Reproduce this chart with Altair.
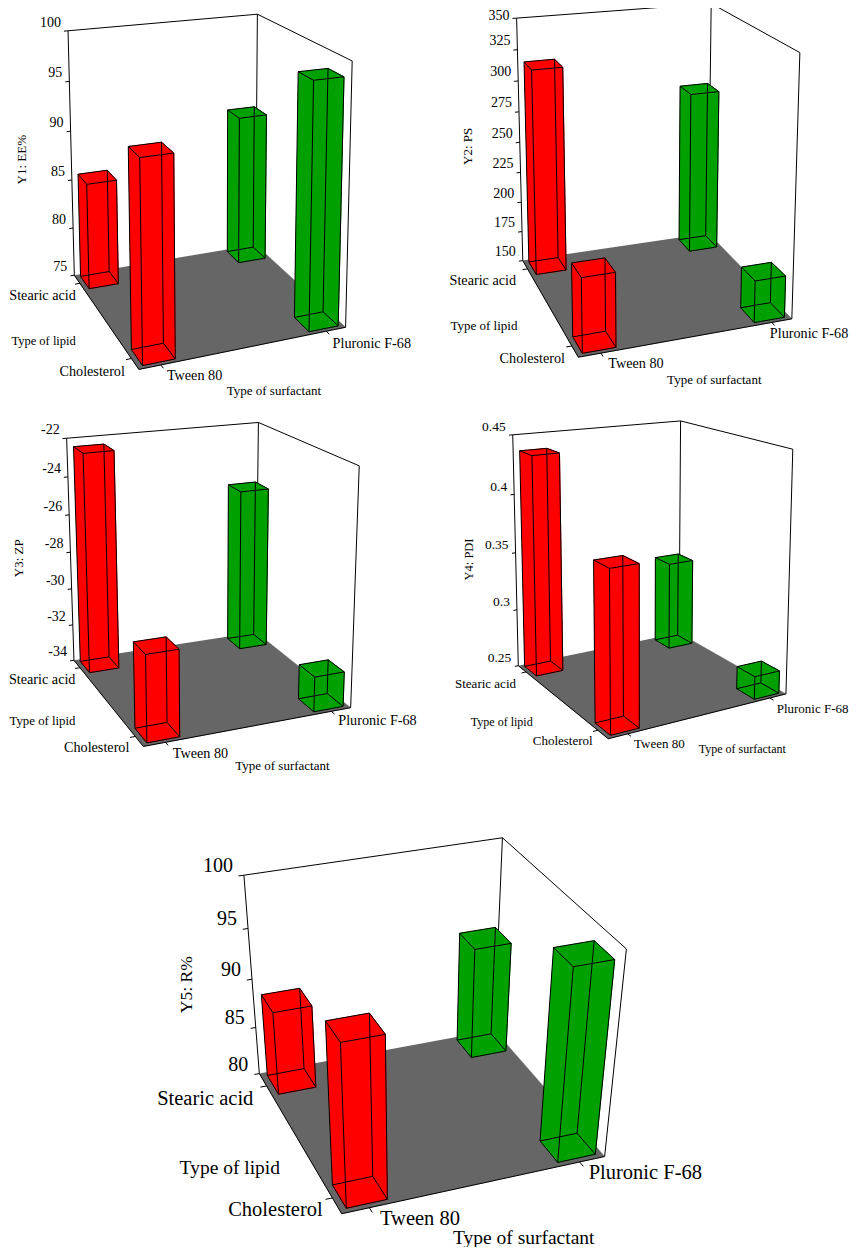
import numpy as np
import pandas as pd
import altair as alt

# ---------------------------------------------------------------- data
lipids = ["Stearic acid", "Cholesterol"]
surfactants = ["Tween 80", "Pluronic F-68"]
responses = ["Y1: EE%", "Y2: PS", "Y3: ZP", "Y4: PDI", "Y5: R%"]
lipid_title = "Type of lipid"
surfactant_title = "Type of surfactant"

# bar order: (Stearic acid, Tween 80), (Cholesterol, Tween 80),
#            (Stearic acid, Pluronic F-68), (Cholesterol, Pluronic F-68)
bar_lipid = ["Stearic acid", "Cholesterol", "Stearic acid", "Cholesterol"]
bar_surfactant = ["Tween 80", "Tween 80", "Pluronic F-68", "Pluronic F-68"]

y1_ee = [85.7, 93.6, 90.4, 98.5]
y2_ps = [316.0, 206.0, 284.0, 182.5]
y3_zp = [-22.4, -29.7, -25.2, -32.2]
y4_pdi = [0.437, 0.377, 0.328, 0.269]
y5_r = [88.6, 95.9, 91.5, 98.9]
response_values = [y1_ee, y2_ps, y3_zp, y4_pdi, y5_r]

y1_ticks = [75, 80, 85, 90, 95, 100]
y2_ticks = [150, 175, 200, 225, 250, 275, 300, 325, 350]
y3_ticks = [-34, -32, -30, -28, -26, -24, -22]
y4_ticks = [0.25, 0.3, 0.35, 0.4, 0.45]
y5_ticks = [80, 85, 90, 95, 100]
response_ticks = [y1_ticks, y2_ticks, y3_ticks, y4_ticks, y5_ticks]

# ---------------------------------------------------------------- layout / style
FONT = "Liberation Serif, Times New Roman, Times, serif"
RED = "#ff0000"
GREEN = "#00a000"
FLOOR = "#666666"
MARGIN = 8
CHART_W, CHART_H = 842, 1239

# screen position (page px) of the box corners of each panel:
# L, F, R, Bk (floor) and TL, TBk, TR (top)
BOX_CORNERS = {
    1: [(74.0, 274.5), (139.0, 370.0), (345.0, 326.7), (256.3, 245.3),
        (68.3, 31.0), (256.7, 14.0), (352.7, 61.0)],
    2: [(522.7, 260.0), (578.3, 357.7), (791.7, 318.3), (708.5, 233.8),
        (516.7, 18.3), (711.0, 3.3), (800.0, 52.7)],
    3: [(74.0, 660.0), (143.3, 746.7), (350.7, 707.3), (256.0, 632.5),
        (66.7, 438.3), (258.3, 422.3), (359.3, 466.0)],
    4: [(518.3, 665.0), (608.3, 739.3), (786.0, 693.3), (679.0, 633.8),
        (512.7, 435.0), (680.7, 420.7), (792.7, 449.3)],
    5: [(259.3, 1071.7), (341.7, 1215.0), (605.0, 1155.0), (494.0, 1032.0),
        (244.0, 876.0), (502.7, 836.7), (626.0, 949.3)],
}
BOX_WORLD = [(0, 0, 0), (1, 0, 0), (1, 1, 0), (0, 1, 0), (0, 0, 1), (0, 1, 1), (1, 1, 1)]
CAT0, CAT1 = 0.1, 0.9
HALF = 0.075

TEXT_LAYOUT = {
    1: dict(tick=(-7, -8), stearic=(1.5, 20.7), chol=(-14, 2.7), tween=(28, 6.7),
            plur=(-13, 16.3), lipid=(1.5, 65.7), surf=(135, 22), ytitle=(-49, 4),
            fs_tick=14, fs_cat=14.2, fs_stearic=14.2, fs_title=12.5, fs_surf=13, fs_y=13),
    2: dict(tick=(-7, -8.5), stearic=(-6.7, 20), chol=(-13.3, 1.6), tween=(30, 6.6),
            plur=(-22, 15), lipid=(-5.4, 65), surf=(136, 23), ytitle=(-51.5, 4),
            fs_tick=14, fs_cat=14.2, fs_stearic=14.2, fs_title=13, fs_surf=13, fs_y=13),
    3: dict(tick=(-7, -8), stearic=(1.5, 20), chol=(-14, 1.6), tween=(29.4, 7.3),
            plur=(-12.4, 13.4), lipid=(1.5, 60.7), surf=(139, 19.3), ytitle=(-51, 6),
            fs_tick=14, fs_cat=14.2, fs_stearic=14.2, fs_title=12.8, fs_surf=13, fs_y=13),
    4: dict(tick=(-7, -7.5), stearic=(-2.3, 18.3), chol=(-15.6, 2.4), tween=(25.7, 5.7),
            plur=(-9.3, 15), lipid=(14.4, 56.7), surf=(134, 10), ytitle=(-47, 6.7),
            fs_tick=13.5, fs_cat=13, fs_stearic=13, fs_title=12, fs_surf=12, fs_y=12.5),
    5: dict(tick=(-11, -9), stearic=(-6, 25.6), chol=(-19, -3.3), tween=(38.3, 5),
            plur=(-16, 16.7), lipid=(20.7, 94.3), surf=(182, 29), ytitle=(-65, 5.5),
            fs_tick=20, fs_cat=20.5, fs_stearic=20.5, fs_title=19.5, fs_surf=19.5, fs_y=17.5),
}


def camera(img_pts):
    """Perspective camera (3x4) fitted to the box corners (DLT)."""
    W = np.array(BOX_WORLD, dtype=float)
    I = np.array(img_pts, dtype=float)
    c = I.mean(axis=0)
    s = float(np.sqrt(((I - c) ** 2).sum(axis=1).mean()))
    n = (I - c) / s
    A = []
    for (X, Y, Z), (x, y) in zip(W, n):
        A.append([X, Y, Z, 1, 0, 0, 0, 0, -x * X, -x * Y, -x * Z, -x])
        A.append([0, 0, 0, 0, X, Y, Z, 1, -y * X, -y * Y, -y * Z, -y])
    _, _, vt = np.linalg.svd(np.array(A))
    Pn = vt[-1].reshape(3, 4)
    Tinv = np.array([[s, 0, c[0]], [0, s, c[1]], [0, 0, 1]])
    P = Tinv @ Pn
    P = P / P[2, 3]
    return [float(v) for v in P.flatten()]


PFIELDS = [f"p{i}" for i in range(12)] + ["vmin", "vmax"]
param_records = []
for k in range(5):
    panel = k + 1
    rec = {"panel": panel}
    for i, v in enumerate(camera(BOX_CORNERS[panel])):
        rec[f"p{i}"] = v
    rec["vmin"] = float(response_ticks[k][0])
    rec["vmax"] = float(response_ticks[k][-1])
    param_records.append(rec)

# ---------------------------------------------------------------- tables
bar_rows = []
for k in range(5):
    for b in range(4):
        bar_rows.append(dict(panel=k + 1, bar=b, lipid=bar_lipid[b], surfactant=bar_surfactant[b],
                             li=lipids.index(bar_lipid[b]), si=surfactants.index(bar_surfactant[b]),
                             value=float(response_values[k][b])))
bars = pd.DataFrame(bar_rows)

sq = [(-1, -1), (1, -1), (1, 1), (-1, 1)]
sq2 = [(-1, 0), (1, 0), (1, 1), (-1, 1)]
face_tpl = []
for o, (a, b) in enumerate(sq):
    face_tpl.append(dict(face=0, ord=o, a=a, b=b, c=0))
    face_tpl.append(dict(face=1, ord=o, a=a, b=b, c=1))
for o, (b, c) in enumerate(sq2):
    face_tpl.append(dict(face=2, ord=o, a=-1, b=b, c=c))
    face_tpl.append(dict(face=3, ord=o, a=1, b=b, c=c))
for o, (a, c) in enumerate(sq2):
    face_tpl.append(dict(face=4, ord=o, a=a, b=-1, c=c))
    face_tpl.append(dict(face=5, ord=o, a=a, b=1, c=c))
faces = bars.merge(pd.DataFrame(face_tpl), how="cross")
faces["fid"] = faces["panel"].astype(str) + "-" + faces["bar"].astype(str) + "-" + faces["face"].astype(str)

edge_tpl = []
for c in (0, 1):
    for i in range(4):
        (a1, b1), (a2, b2) = sq[i], sq[(i + 1) % 4]
        edge_tpl.append(dict(a1=a1, b1=b1, c1=c, a2=a2, b2=b2, c2=c))
for (a, b) in sq:
    edge_tpl.append(dict(a1=a, b1=b, c1=0, a2=a, b2=b, c2=1))
edges = bars.merge(pd.DataFrame(edge_tpl), how="cross")

floor = pd.DataFrame([dict(panel=k + 1, ord=o, u=float(u), v=float(v))
                      for k in range(5) for o, (u, v) in enumerate([(0, 0), (1, 0), (1, 1), (0, 1)])])

seg_rows = []
for k in range(5):
    p = k + 1
    lo, hi = float(response_ticks[k][0]), float(response_ticks[k][-1])
    for s in [((0, 0, lo), (0, 0, hi)), ((0, 0, hi), (0, 1, hi)), ((0, 1, hi), (1, 1, hi)),
              ((0, 1, lo), (0, 1, hi)), ((1, 1, lo), (1, 1, hi)),
              ((0, 0, lo), (1, 0, lo)), ((1, 0, lo), (1, 1, lo))]:
        seg_rows.append(dict(panel=p, u1=s[0][0], v1=s[0][1], w1=s[0][2], u2=s[1][0], v2=s[1][1], w2=s[1][2]))
    for tv in response_ticks[k]:
        seg_rows.append(dict(panel=p, u1=0, v1=0, w1=float(tv), u2=0, v2=-0.02, w2=float(tv)))
    for cp in (CAT0, CAT1):
        seg_rows.append(dict(panel=p, u1=cp, v1=0, w1=lo, u2=cp, v2=-0.025, w2=lo))
        seg_rows.append(dict(panel=p, u1=1, v1=cp, w1=lo, u2=1.03, v2=cp, w2=lo))
segs = pd.DataFrame(seg_rows)

text_rows = []
for k in range(5):
    p = k + 1
    L = TEXT_LAYOUT[p]
    lo, hi = float(response_ticks[k][0]), float(response_ticks[k][-1])
    for tv in response_ticks[k]:
        text_rows.append(dict(panel=p, kind="right", text=f"{tv:g}", u=0, v=0, w=float(tv),
                              dx=L["tick"][0], dy=L["tick"][1], fs=L["fs_tick"]))
    text_rows.append(dict(panel=p, kind="right", text=lipids[0], u=0, v=0, w=lo,
                          dx=L["stearic"][0], dy=L["stearic"][1], fs=L["fs_stearic"]))
    text_rows.append(dict(panel=p, kind="right", text=lipids[1], u=1, v=0, w=lo,
                          dx=L["chol"][0], dy=L["chol"][1], fs=L["fs_cat"]))
    text_rows.append(dict(panel=p, kind="left", text=surfactants[0], u=1, v=0, w=lo,
                          dx=L["tween"][0], dy=L["tween"][1], fs=L["fs_cat"]))
    text_rows.append(dict(panel=p, kind="left", text=surfactants[1], u=1, v=1, w=lo,
                          dx=L["plur"][0], dy=L["plur"][1], fs=L["fs_cat"]))
    text_rows.append(dict(panel=p, kind="right", text=lipid_title, u=0, v=0, w=lo,
                          dx=L["lipid"][0], dy=L["lipid"][1], fs=L["fs_title"]))
    text_rows.append(dict(panel=p, kind="center", text=surfactant_title, u=1, v=0, w=lo,
                          dx=L["surf"][0], dy=L["surf"][1], fs=L["fs_surf"]))
    text_rows.append(dict(panel=p, kind="ytitle", text=responses[k], u=0, v=0, w=(lo + hi) / 2,
                          dx=L["ytitle"][0], dy=L["ytitle"][1], fs=L["fs_y"]))
texts = pd.DataFrame(text_rows)

# ---------------------------------------------------------------- chart helpers
# page pixels -> plot pixels (1:1, the page has an 8px margin)
XS = alt.Scale(domain=[MARGIN, MARGIN + CHART_W], nice=False, zero=False)
YS = alt.Scale(domain=[MARGIN, MARGIN + CHART_H], nice=False, zero=False, reverse=True)


def geo(df):
    return alt.Chart(df).transform_lookup(
        lookup="panel",
        from_=alt.LookupData(data=alt.InlineData(values=param_records), key="panel", fields=PFIELDS),
    )


def norm(w):
    return f"(({w}) - datum.vmin) / (datum.vmax - datum.vmin)"


def project(ch, u, v, t, xo, yo):
    den = f"(datum.p8*({u}) + datum.p9*({v}) + datum.p10*({t}) + datum.p11)"
    return ch.transform_calculate(**{
        xo: f"(datum.p0*({u}) + datum.p1*({v}) + datum.p2*({t}) + datum.p3) / {den}",
        yo: f"(datum.p4*({u}) + datum.p5*({v}) + datum.p6*({t}) + datum.p7) / {den}",
    })


def X(f):
    return alt.X(f"{f}:Q", scale=XS, axis=None)


def Y(f):
    return alt.Y(f"{f}:Q", scale=YS, axis=None)


color_scale = alt.Scale(domain=surfactants, range=[RED, GREEN])

# floor
floor_layer = project(geo(floor).transform_calculate(t="0"), "datum.u", "datum.v", "datum.t", "px", "py") \
    .mark_line(fill=FLOOR, stroke=FLOOR, strokeWidth=0.5) \
    .encode(x=X("px"), y=Y("py"), order=alt.Order("ord:Q"), detail="panel:N")

# frame, floor edges and ticks
seg_base = geo(segs).transform_calculate(t1=norm("datum.w1"), t2=norm("datum.w2"))
seg_base = project(seg_base, "datum.u1", "datum.v1", "datum.t1", "x1", "y1")
seg_base = project(seg_base, "datum.u2", "datum.v2", "datum.t2", "x2", "y2")
frame_layer = seg_base.mark_rule(color="black", strokeWidth=1).encode(
    x=X("x1"), y=Y("y1"), x2="x2:Q", y2="y2:Q")

# bar faces
ucalc = f"{CAT0} + {CAT1 - CAT0}*datum.li + {HALF}*datum.a"
vcalc = f"{CAT0} + {CAT1 - CAT0}*datum.si + {HALF}*datum.b"
face_base = geo(faces).transform_calculate(
    u=ucalc, v=vcalc, t="datum.c == 1 ? " + norm("datum.value") + " : 0")
face_base = project(face_base, "datum.u", "datum.v", "datum.t", "px", "py")
face_layer = face_base.mark_line(strokeWidth=0.6).encode(
    x=X("px"), y=Y("py"), order=alt.Order("ord:Q"), detail="fid:N",
    fill=alt.Fill("surfactant:N", scale=color_scale, legend=None),
    color=alt.Color("surfactant:N", scale=color_scale, legend=None))

# bar edges
edge_base = geo(edges).transform_calculate(
    eu1=f"{CAT0} + {CAT1 - CAT0}*datum.li + {HALF}*datum.a1",
    ev1=f"{CAT0} + {CAT1 - CAT0}*datum.si + {HALF}*datum.b1",
    et1="datum.c1 == 1 ? " + norm("datum.value") + " : 0",
    eu2=f"{CAT0} + {CAT1 - CAT0}*datum.li + {HALF}*datum.a2",
    ev2=f"{CAT0} + {CAT1 - CAT0}*datum.si + {HALF}*datum.b2",
    et2="datum.c2 == 1 ? " + norm("datum.value") + " : 0",
)
edge_base = project(edge_base, "datum.eu1", "datum.ev1", "datum.et1", "x1", "y1")
edge_base = project(edge_base, "datum.eu2", "datum.ev2", "datum.et2", "x2", "y2")
edge_layer = edge_base.mark_rule(color="black", strokeWidth=1).encode(
    x=X("x1"), y=Y("y1"), x2="x2:Q", y2="y2:Q")

# texts (kept inside the drawable area)
text_base = geo(texts).transform_calculate(t=norm("datum.w"))
text_base = project(text_base, "datum.u", "datum.v", "datum.t", "ax", "ay") \
    .transform_calculate(
        tx="datum.ax + datum.dx",
        ty=f"clamp(datum.ay + datum.dy, {MARGIN} + 0.55*datum.fs, {MARGIN + CHART_H} - 0.45*datum.fs)")
tenc = dict(x=X("tx"), y=Y("ty"), text="text:N", size=alt.Size("fs:Q", scale=None, legend=None))
text_right = text_base.transform_filter("datum.kind == 'right'").mark_text(
    align="right", baseline="middle", font=FONT, color="black").encode(**tenc)
text_left = text_base.transform_filter("datum.kind == 'left'").mark_text(
    align="left", baseline="middle", font=FONT, color="black").encode(**tenc)
text_center = text_base.transform_filter("datum.kind == 'center'").mark_text(
    align="center", baseline="middle", font=FONT, color="black").encode(**tenc)
text_y = text_base.transform_filter("datum.kind == 'ytitle'").mark_text(
    align="center", baseline="middle", font=FONT, color="black", angle=270).encode(**tenc)

chart = alt.layer(
    floor_layer, frame_layer, face_layer, edge_layer,
    text_right, text_left, text_center, text_y,
).properties(
    width=CHART_W, height=CHART_H, padding=0,
    autosize=alt.AutoSizeParams(type="none"),
).configure_view(strokeWidth=0).configure_text(font=FONT)

chart.save("out.html", embed_options={"renderer": "svg", "actions": False})
